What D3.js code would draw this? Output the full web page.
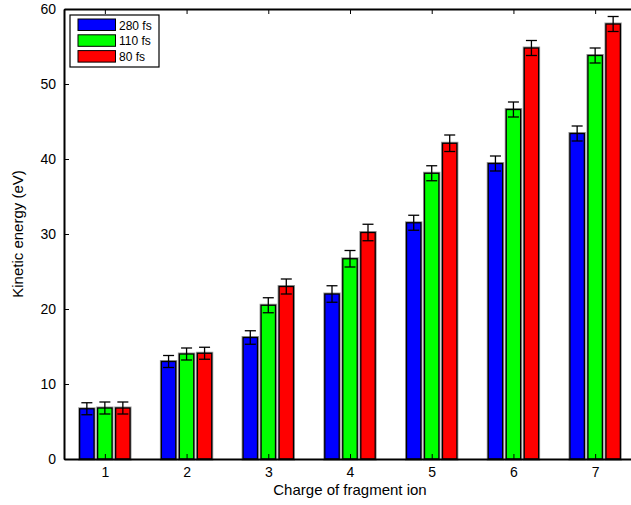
<!DOCTYPE html>
<html>
<head>
<meta charset="utf-8">
<script src="https://cdn.jsdelivr.net/npm/d3@7/dist/d3.min.js"></script>
<style>
  body { margin: 0; background: #fff; }
  svg { display: block; font-family: "Liberation Sans", Arial, sans-serif; }
</style>
</head>
<body>
<svg id="chart" width="631" height="505"></svg>
<script>
// charge states on the x axis
const charges = [1, 2, 3, 4, 5, 6, 7];
// pulse durations (legend)
const series = ["280 fs", "110 fs", "80 fs"];
const colors = ["#0000ff", "#00ff00", "#ff0000"];
// kinetic energy (eV) per series
const ke280 = [6.7, 13.0, 16.2, 22.0, 31.5, 39.4, 43.4];
const ke110 = [6.8, 14.0, 20.5, 26.7, 38.1, 46.6, 53.8];
const ke80 = [6.8, 14.1, 23.0, 30.2, 42.1, 54.8, 58.0];
// error bar half-widths
const err280 = [0.8, 0.8, 0.9, 1.1, 1.0, 1.0, 1.0];
const err110 = [0.8, 0.8, 1.0, 1.1, 1.0, 1.0, 1.0];
const err80 = [0.8, 0.8, 1.0, 1.1, 1.1, 1.0, 1.0];
const yTicks = [0, 10, 20, 30, 40, 50, 60];

const values = [ke280, ke110, ke80];
const errors = [err280, err110, err80];

const svg = d3.select("#chart");
const margin = { left: 64, top: 9, right: 636, bottom: 459 };

const x = d3.scaleLinear().domain([0.5, 7.5]).range([margin.left, margin.right]);
const y = d3.scaleLinear().domain([0, 60]).range([margin.bottom, margin.top]);
const xSub = d3.scaleBand().domain(series).range([-27, 27]).paddingInner(0.2).paddingOuter(0.1);

// flatten to one record per bar
const bars = [];
series.forEach((s, i) => {
	charges.forEach((c, j) => {
		bars.push({ series: s, color: colors[i], charge: c, value: values[i][j], err: errors[i][j] });
	});
});

const plot = svg.append("g");

// bars, with a soft gray halo like the original print
plot.selectAll("rect.halo")
	.data(bars)
	.join("rect")
	.attr("class", "halo")
	.attr("x", d => x(d.charge) + xSub(d.series))
	.attr("y", d => y(d.value))
	.attr("width", xSub.bandwidth())
	.attr("height", d => y(0) - y(d.value))
	.attr("fill", "none")
	.attr("stroke", "#9a9a9a")
	.attr("stroke-width", 3);

plot.selectAll("rect.bar")
	.data(bars)
	.join("rect")
	.attr("class", "bar")
	.attr("x", d => x(d.charge) + xSub(d.series))
	.attr("y", d => y(d.value))
	.attr("width", xSub.bandwidth())
	.attr("height", d => y(0) - y(d.value))
	.attr("fill", d => d.color)
	.attr("stroke", "#000")
	.attr("stroke-width", 1.3);

// error bars
const eb = plot.selectAll("g.err")
	.data(bars)
	.join("g")
	.attr("class", "err")
	.attr("transform", d => `translate(${x(d.charge) + xSub(d.series) + xSub.bandwidth() / 2},0)`);

eb.append("line")
	.attr("y1", d => y(d.value - d.err))
	.attr("y2", d => y(d.value + d.err))
	.attr("stroke", "#000")
	.attr("stroke-width", 1.3);
[-1, 1].forEach(sign => {
	eb.append("line")
		.attr("x1", -5.5)
		.attr("x2", 5.5)
		.attr("y1", d => y(d.value + sign * d.err))
		.attr("y2", d => y(d.value + sign * d.err))
		.attr("stroke", "#000")
		.attr("stroke-width", 1.3);
});

// axes
const axisStyle = g => {
	g.select(".domain").attr("stroke-width", 2);
	g.selectAll(".tick line").attr("stroke-width", 1);
	g.selectAll(".tick text").attr("font-size", 14).attr("fill", "#000")
		.attr("font-family", "Liberation Sans, Arial, sans-serif");
};

svg.append("g")
	.attr("transform", `translate(0,${margin.bottom})`)
	.call(d3.axisBottom(x).tickValues(charges).tickFormat(d3.format("d"))
		.tickSizeInner(-5).tickSizeOuter(0).tickPadding(8))
	.call(axisStyle);

svg.append("g")
	.attr("transform", `translate(0,${margin.top})`)
	.call(d3.axisTop(x).tickValues(charges).tickSizeInner(-5).tickSizeOuter(0).tickFormat(""))
	.call(axisStyle);

svg.append("g")
	.attr("transform", `translate(${margin.left},0)`)
	.call(d3.axisLeft(y).tickValues(yTicks).tickFormat(d3.format("d"))
		.tickSizeInner(-5).tickSizeOuter(0).tickPadding(8))
	.call(axisStyle);

svg.append("g")
	.attr("transform", `translate(${margin.right},0)`)
	.call(d3.axisRight(y).tickValues(yTicks).tickSizeInner(-5).tickSizeOuter(0).tickFormat(""))
	.call(axisStyle);

// axis titles
svg.append("text")
	.attr("x", (margin.left + margin.right) / 2)
	.attr("y", 495)
	.attr("text-anchor", "middle")
	.attr("font-size", 15)
	.text("Charge of fragment ion");

svg.append("text")
	.attr("transform", `translate(23,${(margin.top + margin.bottom) / 2}) rotate(-90)`)
	.attr("text-anchor", "middle")
	.attr("font-size", 15)
	.text("Kinetic energy (eV)");

// legend
const legend = svg.append("g").attr("transform", "translate(70,15)");
legend.append("rect")
	.attr("width", 89)
	.attr("height", 52)
	.attr("fill", "#fff")
	.attr("stroke", "#000")
	.attr("stroke-width", 1.2);

const items = legend.selectAll("g.item")
	.data(series)
	.join("g")
	.attr("class", "item")
	.attr("transform", (d, i) => `translate(8,${4 + i * 15.8})`);

items.append("rect")
	.attr("width", 37.5)
	.attr("height", 11.5)
	.attr("fill", (d, i) => colors[i])
	.attr("stroke", "#000")
	.attr("stroke-width", 1);

items.append("text")
	.attr("x", 41)
	.attr("y", 10.5)
	.attr("font-size", 12)
	.text(d => d);
</script>
</body>
</html>
